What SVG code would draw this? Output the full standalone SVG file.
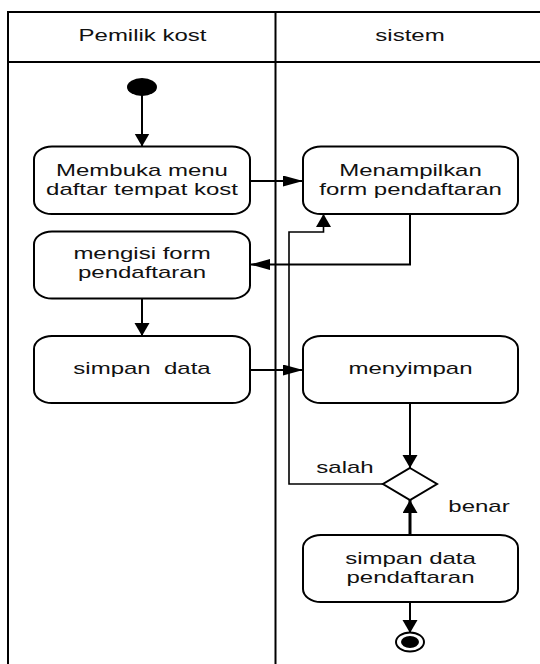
<svg xmlns="http://www.w3.org/2000/svg" width="540" height="664" viewBox="0 0 540 664">
  <style>
    .lane { stroke: #000; stroke-width: 2; fill: none; }
    .act { fill: #fff; stroke: #000; stroke-width: 2; }
    .lbl { font-family: "Liberation Sans", Arial, sans-serif; font-size: 16px; fill: #111; text-anchor: middle; }
    .side { font-family: "Liberation Sans", Arial, sans-serif; font-size: 16px; fill: #111; text-anchor: middle; }
    .flow { stroke: #000; stroke-width: 2; fill: none; }
    .thin { stroke: #000; stroke-width: 1.6; fill: none; }
    .thick { stroke: #000; stroke-width: 3; fill: none; }
  </style>
  <defs>
    <!-- heads for vertical flows -->
    <marker id="headV" markerUnits="userSpaceOnUse" markerWidth="14" markerHeight="16" refX="13" refY="7.5" orient="auto">
      <path d="M0,0 L13,7.5 L0,15 Z" fill="#000"/>
    </marker>
    <!-- heads for horizontal flows (wider, flatter) -->
    <marker id="headH" markerUnits="userSpaceOnUse" markerWidth="21" markerHeight="12" refX="20" refY="5.5" orient="auto">
      <path d="M0,0 L20,5.5 L0,11 Z" fill="#000"/>
    </marker>
  </defs>

  <rect width="540" height="664" fill="#fff"/>

  <!-- swimlanes -->
  <g id="lanes">
    <line class="lane" x1="8" y1="12" x2="540" y2="12"/>
    <line class="lane" x1="8" y1="62" x2="540" y2="62"/>
    <line class="lane" x1="8" y1="11" x2="8" y2="664"/>
    <line class="lane" x1="275.5" y1="11" x2="275.5" y2="664"/>
    <text class="lbl" transform="translate(142.5 41) scale(1.5 1)">Pemilik kost</text>
    <text class="lbl" transform="translate(410 41) scale(1.5 1)">sistem</text>
  </g>

  <!-- connectors -->
  <g id="connectors">
    <line class="flow" x1="142" y1="95" x2="142" y2="146.5" marker-end="url(#headV)"/>
    <line class="flow" x1="250" y1="181" x2="303" y2="181" marker-end="url(#headH)"/>
    <path class="flow" d="M410,214 V264.5 H250" marker-end="url(#headH)"/>
    <line class="flow" x1="142" y1="298.5" x2="142" y2="336" marker-end="url(#headV)"/>
    <line class="flow" x1="250" y1="370" x2="303" y2="370" marker-end="url(#headH)"/>
    <line class="flow" x1="410" y1="403" x2="410" y2="468" marker-end="url(#headV)"/>
    <path class="thin" d="M383,484 H289 V232 H323.5 V214" marker-end="url(#headV)"/>
    <line class="thick" x1="410" y1="535" x2="410" y2="500" marker-end="url(#headV)"/>
    <line class="flow" x1="410" y1="602" x2="410" y2="633" marker-end="url(#headV)"/>
    <text class="side" transform="translate(345 473) scale(1.5 1)">salah</text>
    <text class="side" transform="translate(479 512) scale(1.5 1)">benar</text>
  </g>

  <g id="start">
    <ellipse cx="142" cy="87" rx="15" ry="9" fill="#000"/>
  </g>

  <g id="membuka-menu">
    <rect class="act" x="34" y="146.5" width="216" height="67.5" rx="18" ry="13"/>
    <text class="lbl" transform="translate(142 176) scale(1.5 1)">Membuka menu</text>
    <text class="lbl" transform="translate(142 194.5) scale(1.5 1)">daftar tempat kost</text>
  </g>

  <g id="menampilkan-form">
    <rect class="act" x="303" y="146.5" width="215" height="67.5" rx="18" ry="13"/>
    <text class="lbl" transform="translate(410.5 176) scale(1.5 1)">Menampilkan</text>
    <text class="lbl" transform="translate(410.5 194.5) scale(1.5 1)">form pendaftaran</text>
  </g>

  <g id="mengisi-form">
    <rect class="act" x="34" y="231.5" width="216" height="67" rx="18" ry="13"/>
    <text class="lbl" transform="translate(142 259) scale(1.5 1)">mengisi form</text>
    <text class="lbl" transform="translate(142 277.5) scale(1.5 1)">pendaftaran</text>
  </g>

  <g id="simpan-data">
    <rect class="act" x="34" y="336" width="216" height="67" rx="18" ry="13"/>
    <text class="lbl" transform="translate(142 373.5) scale(1.5 1)">simpan&#160; data</text>
  </g>

  <g id="menyimpan">
    <rect class="act" x="303" y="336" width="215" height="67" rx="18" ry="13"/>
    <text class="lbl" transform="translate(410.5 373.5) scale(1.5 1)">menyimpan</text>
  </g>

  <g id="decision">
    <polygon points="410,468 437,484 410,500 383,484" fill="#fff" stroke="#000" stroke-width="2"/>
  </g>

  <g id="simpan-data-pendaftaran">
    <rect class="act" x="303" y="535" width="215" height="67" rx="18" ry="13"/>
    <text class="lbl" transform="translate(410.5 564) scale(1.5 1)">simpan data</text>
    <text class="lbl" transform="translate(410.5 582.5) scale(1.5 1)">pendaftaran</text>
  </g>

  <g id="end">
    <ellipse cx="410" cy="642" rx="14" ry="9.5" fill="#fff" stroke="#000" stroke-width="2"/>
    <ellipse cx="410" cy="642" rx="9" ry="6" fill="#000"/>
  </g>
</svg>
